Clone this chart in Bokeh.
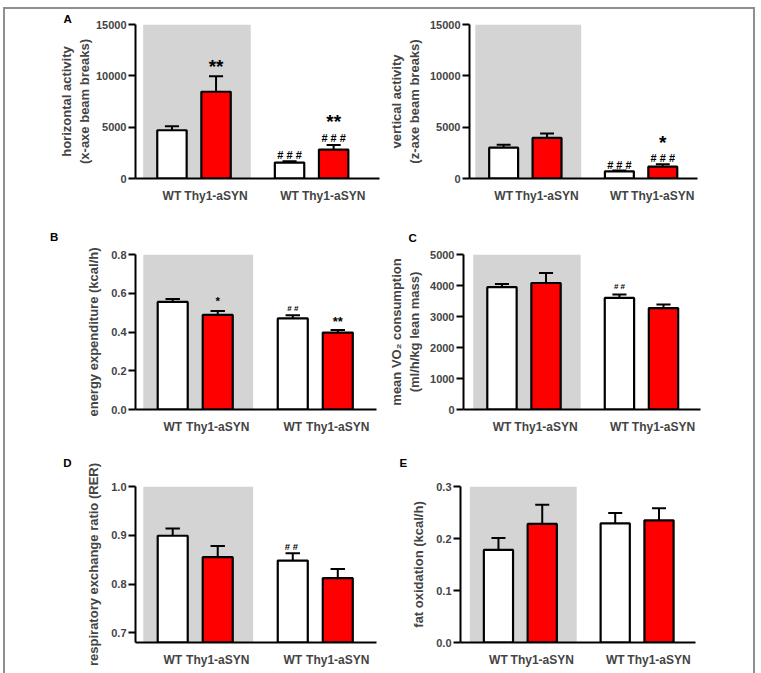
from bokeh.plotting import figure
from bokeh.models import (Range1d, FixedTicker, BoxAnnotation,
                          ColumnDataSource, NumeralTickFormatter, CustomJSTickFormatter)
from bokeh.layouts import column, row
from bokeh.embed import file_html
from bokeh.resources import INLINE
from bokeh.core.properties import value

# ---- data -------------------------------------------------------------
groups = ["WT", "Thy1-aSYN", "WT", "Thy1-aSYN"]
bar_x = [1.0, 2.5, 5.0, 6.5]
bar_colors = ["white", "#ff0000", "white", "#ff0000"]

horiz_mean = [4700, 8450, 1550, 2820]
horiz_sem = [390, 1520, 130, 450]

vert_mean = [3000, 3950, 700, 1150]
vert_sem = [280, 430, 90, 250]

energy_mean = [0.555, 0.488, 0.470, 0.397]
energy_sem = [0.015, 0.020, 0.017, 0.013]

vo2_mean = [3945, 4080, 3600, 3270]
vo2_sem = [105, 320, 110, 120]

rer_mean = [0.899, 0.855, 0.848, 0.812]
rer_sem = [0.015, 0.023, 0.015, 0.019]

fat_mean = [0.178, 0.228, 0.229, 0.235]
fat_sem = [0.023, 0.037, 0.020, 0.023]

# significance marks: (bar index, mark)
horiz_marks = [(1, "**"), (2, "# # #"), (3, "# # #"), (3, "**")]
vert_marks = [(2, "# # #"), (3, "# # #"), (3, "*")]
energy_marks = [(1, "*"), (2, "# #"), (3, "**")]
vo2_marks = [(2, "# #")]
rer_marks = [(2, "#  #")]

FONT = "Liberation Sans"
SHADE = "#d4d4d4"


def panel(mean, sem, ylabel, y0, y1, yticks, yfmt, x0, x1, w, h, borders,
          marks=(), mark_style=(), letter="", letter_pos=(0, 10), label_standoff=5):
    left, right, top, bottom = borders
    p = figure(width=w, height=h, x_range=Range1d(x0, x1), y_range=Range1d(y0, y1),
               output_backend="svg", toolbar_location=None,
               min_border_left=left, min_border_right=right,
               min_border_top=top, min_border_bottom=bottom)
    p.outline_line_color = None
    p.grid.visible = False
    p.background_fill_color = "white"
    p.border_fill_color = "white"

    # panel letter as a left-aligned title pulled out over the axis area
    p.title.text = letter
    p.title.align = "left"
    p.title.offset = letter_pos[0]
    p.title.standoff = letter_pos[1]
    p.title.text_font = FONT
    p.title.text_font_style = "bold"
    p.title.text_font_size = "11.5px"
    p.title.text_color = "black"

    # shaded first group
    p.add_layout(BoxAnnotation(left=0.02, right=3.68, fill_color=SHADE, fill_alpha=1.0,
                               line_color=None, level="underlay"))

    tops = [m + s for m, s in zip(mean, sem)]
    src = ColumnDataSource(dict(x=bar_x, top=mean, err=tops, color=bar_colors,
                                lo=[x - 0.24 for x in bar_x], hi=[x + 0.24 for x in bar_x]))
    p.segment(x0="x", y0="top", x1="x", y1="err", source=src, line_color="black", line_width=2)
    p.segment(x0="lo", y0="err", x1="hi", y1="err", source=src, line_color="black", line_width=2)
    p.vbar(x="x", top="top", bottom=y0, width=1.0, source=src, fill_color="color",
           line_color="black", line_width=2.2)

    if marks:
        mx, my, mt, ms, mo = [], [], [], [], []
        for (i, t), (size, lift) in zip(marks, mark_style):
            mx.append(bar_x[i])
            my.append(tops[i])
            mt.append(t)
            ms.append(f"{size}px")
            mo.append(-lift)
        p.text(x=mx, y=my, text=mt, text_font_size=ms, y_offset=mo,
               text_align="center", text_baseline="alphabetic",
               text_font=value(FONT), text_font_style="bold", text_color="black")

    # y axis
    ya = p.yaxis[0]
    ya.ticker = FixedTicker(ticks=yticks)
    ya.formatter = NumeralTickFormatter(format=yfmt)
    ya.axis_label = ylabel
    ya.axis_label_text_font = FONT
    ya.axis_label_text_font_style = "bold"
    ya.axis_label_text_font_size = "13px"
    ya.axis_label_standoff = label_standoff
    ya.major_label_text_font = FONT
    ya.major_label_text_font_style = "bold"
    ya.major_label_text_font_size = "11px"
    ya.major_label_standoff = 2
    ya.major_tick_out = 7
    ya.major_tick_in = 0
    ya.major_tick_line_width = 2
    ya.minor_tick_line_color = None
    ya.axis_line_width = 2

    # x axis: one label under each bar
    xa = p.xaxis[0]
    xa.ticker = FixedTicker(ticks=bar_x)
    xa.formatter = CustomJSTickFormatter(args=dict(pos=bar_x, names=groups), code="""
        const i = pos.findIndex(v => Math.abs(v - tick) < 1e-6);
        return i >= 0 ? names[i] : "";
    """)
    xa.major_tick_line_color = None
    xa.minor_tick_line_color = None
    xa.major_label_standoff = 4
    xa.major_label_text_font = FONT
    xa.major_label_text_font_style = "bold"
    xa.major_label_text_font_size = "12px"
    xa.axis_line_width = 2
    return p


LW, RW = 380, 368

# row 1
pA = panel(horiz_mean, horiz_sem, "horizontal activity\n(x-axe beam breaks)",
           0, 15000, [0, 5000, 10000, 15000], "0", -0.24, 8.06, LW, 206, (130, 6, 15, 35),
           marks=horiz_marks, mark_style=[(19, 9.5), (11, 6), (11, 6.5), (19, 23.5)],
           letter="A", letter_pos=(-72, 0), label_standoff=1)
pA2 = panel(vert_mean, vert_sem, "vertical activity\n(z-axe beam breaks)",
            0, 15000, [0, 5000, 10000, 15000], "0", -0.18, 7.70, RW, 206, (78, 56, 13, 37),
            marks=vert_marks, mark_style=[(11, 5.7), (11, 6.6), (19, 21.5)])

# row 2
pB = panel(energy_mean, energy_sem, "energy expenditure (kcal/h)",
           0, 0.8, [0, 0.2, 0.4, 0.6, 0.8], "0.0", -0.24, 7.79, LW, 221, (130, 9, 39, 25),
           marks=energy_marks, mark_style=[(11.5, 9.8), (8, 6.4), (13, 9)],
           letter="B", letter_pos=(-85.5, 24), label_standoff=7)
pC = panel(vo2_mean, vo2_sem, "mean VO\u2082 consumption\n(ml/h/kg lean mass)",
           0, 5000, [0, 1000, 2000, 3000, 4000, 5000], "0", -0.31, 7.76, RW, 221, (78, 53, 39, 26),
           marks=vo2_marks, mark_style=[(8, 8)],
           letter="C", letter_pos=(-55, 22))

# row 3
pD = panel(rer_mean, rer_sem, "respiratory exchange ratio (RER)",
           0.68, 1.0, [0.7, 0.8, 0.9, 1.0], "0.0", -0.24, 7.79, LW, 241, (130, 9, 50, 35),
           marks=rer_marks, mark_style=[(9.5, 6.3)],
           letter="D", letter_pos=(-72.3, 35), label_standoff=7)
pE = panel(fat_mean, fat_sem, "fat oxidation (kcal/h)",
           0, 0.3, [0, 0.1, 0.2, 0.3], "0.0", -0.30, 7.75, RW, 241, (75, 58, 50, 35),
           letter="E", letter_pos=(-61, 35), label_standoff=7)

layout = column(row(pA, pA2), row(pB, pC), row(pD, pE),
                margin=(7, 0, 0, 3),
                styles={"border": "2px solid #8f8f8f"})

open("out.html", "w").write(file_html(layout, INLINE))
